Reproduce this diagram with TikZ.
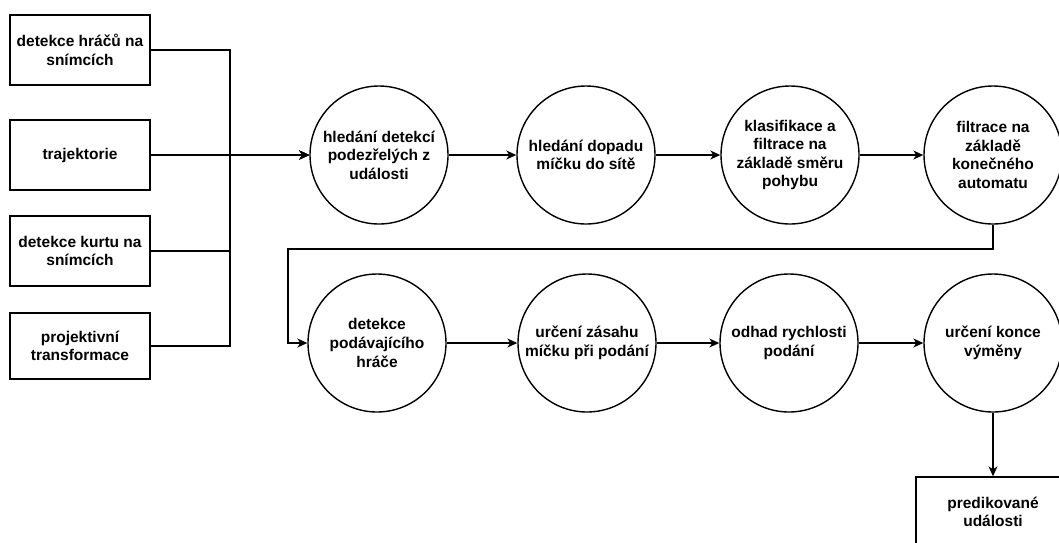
\documentclass[tikz,border=0pt]{standalone}
\usepackage{fontspec}
\setmainfont{Liberation Sans}
\usetikzlibrary{arrows.meta}
\tikzset{
  lbl/.style={font=\fontsize{15.5}{18.6}\selectfont\bfseries, align=center, inner sep=0pt},
  inbox/.style={lbl, draw, line width=1.4pt, minimum width=140pt, minimum height=70pt},
  stage/.style={lbl, draw, circle, line width=1.4pt, minimum size=138pt},
  link/.style={line width=1.3pt, -{Stealth[length=10pt,width=9pt,inset=3pt]}},
  wire/.style={line width=1.3pt}
}
\begin{document}
\begin{tikzpicture}[x=1pt,y=-1pt]
\useasboundingbox (0,0) rectangle (1059,542);
\clip (0,0) rectangle (1059,542);
\fill[white] (0,0) rectangle (1059,542);

% input boxes
\node[inbox] (b1) at (80,50)  {detekce hráčů na\\snímcích};
\node[inbox] (b2) at (80,155) {trajektorie};
\node[inbox] (b3) at (80,251) {detekce kurtu na\\snímcích};
\node[inbox, minimum height=66pt] (b4) at (80,346) {projektivní\\transformace};

% first row of stages
\node[stage] (c1) at (379,155) {hledání detekcí\\podezřelých z\\události};
\node[stage] (c2) at (586,155) {hledání dopadu\\míčku do sítě};
\node[stage] (c3) at (790,155) {klasifikace a\\filtrace na\\základě směru\\pohybu};
\node[stage] (c4) at (993,155) {filtrace na\\základě\\konečného\\automatu};

% second row of stages
\node[stage] (d1) at (377,343) {detekce\\podávajícího\\hráče};
\node[stage] (d2) at (587,343) {určení zásahu\\míčku při podání};
\node[stage] (d3) at (789,343) {odhad rychlosti\\podání};
\node[stage] (d4) at (993,343) {určení konce\\výměny};

% output box
\node[inbox, minimum width=154pt] (out) at (993,512) {predikované\\události};

% merging the inputs
\coordinate (j) at (230,155);
\draw[link] (b1.east) -| (j) -- (c1.west);
\draw[link] (b2.east) -- (j) -- (c1.west);
\draw[link] (b3.east) -| (j) -- (c1.west);
\draw[link] (b4.east) -| (j) -- (c1.west);

% first row
\draw[link] (c1) -- (c2);
\draw[link] (c2) -- (c3);
\draw[link] (c3) -- (c4);

% wrap to second row
\coordinate (r1) at (993,249);
\coordinate (r2) at (288,249);
\draw[link] (c4.south) -- (r1) -- (r2) |- (d1.west);

% second row
\draw[link] (d1) -- (d2);
\draw[link] (d2) -- (d3);
\draw[link] (d3) -- (d4);
\draw[link] (d4.south) -- (out.north);
\end{tikzpicture}
\end{document}
